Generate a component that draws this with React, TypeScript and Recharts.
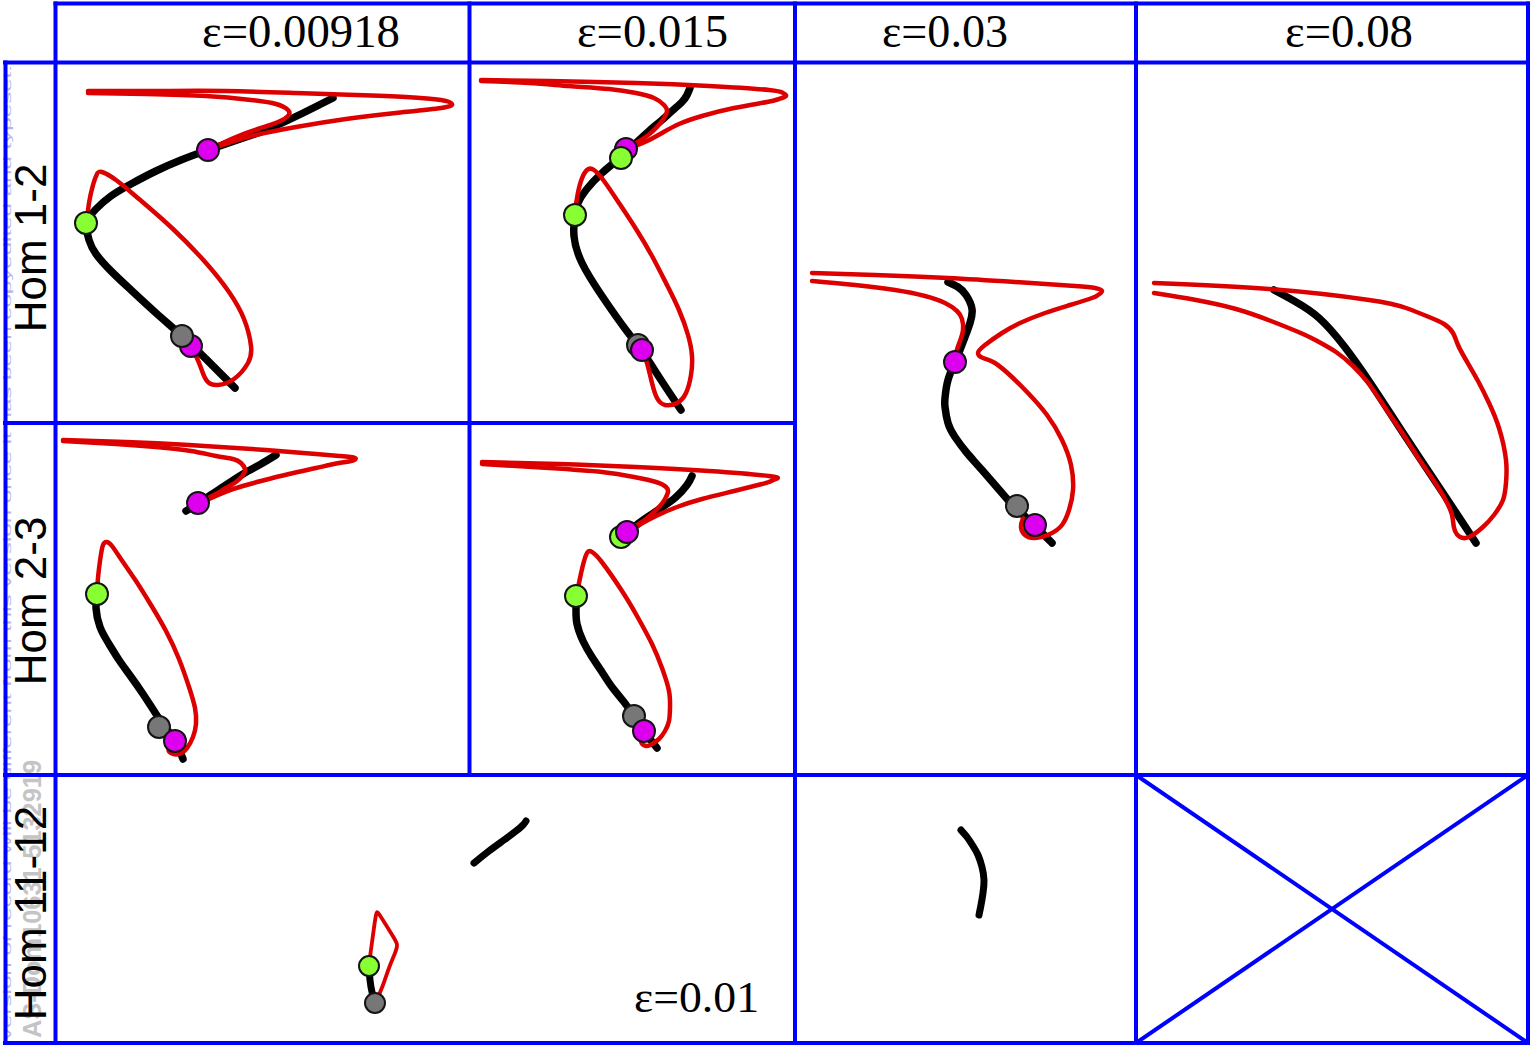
import React from 'react';
import { ComposedChart, Line, Scatter, XAxis, YAxis } from 'recharts';

type Pt = [number, number];
type Dot = { x: number; y: number; k: 'm' | 'g' | 'k' };

const RED = '#dd0000';
const BLUE = '#0000ff';
const DOT_FILL: Record<string, string> = { m: '#dd00ee', g: '#88ff33', k: '#777777' };

// ---------- text ----------
const headerLabels = ['ε=0.00918', 'ε=0.015', 'ε=0.03', 'ε=0.08'];
const rowLabels = ['Hom 1-2', 'Hom 2-3', 'Hom 11-12'];
const bottomLabel = 'ε=0.01';
const watermarkId = 'AS-Dom10631-5132919';
const watermarkNote = 'version of record will be different from this version once it has been copyedited and typeset.';

// ---------- Hom 1-2, eps 0.00918 ----------
const p1Black: Pt[] = [[277,35],[265,41],[245,51],[217,64],[190,74],[152,87],[125,97],[100,108],[75,121],[55,133],[40,146],[31,160],[33,177],[40,191],[55,208],[75,227],[100,250],[126,273],[150,296],[179,325]];
const p1RedA: Pt[] = [[32,28],[100,28],[170,28],[240,30],[300,32],[350,34],[385,37],[396,41],[385,45],[340,50],[290,56],[240,64],[200,72],[175,79],[152,87]];
const p1RedB: Pt[] = [[32,30],[90,31],[150,33],[195,37],[220,41],[232,47],[232,53],[222,59],[205,65],[180,74],[152,87]];
const p1RedLoop: Pt[] = [[31,158],[33,140],[37,122],[41,111],[46,109],[60,117],[83,136],[117,166],[150,200],[173,229],[188,256],[195,283],[192,300],[178,316],[162,322],[151,318],[145,305],[140,293],[135,283]];
const p1Dots: Dot[] = [{ x: 152, y: 87, k: 'm' }, { x: 30, y: 160, k: 'g' }, { x: 135, y: 283, k: 'm' }, { x: 126, y: 273, k: 'k' }];

// ---------- Hom 1-2, eps 0.015 ----------
const p2Black: Pt[] = [[221,25],[218,32],[213,39],[203,48],[193,57],[180,68],[167,80],[152,94],[133,110],[117,127],[109,140],[106,152],[105,173],[113,200],[133,233],[157,267],[173,288],[192,317],[212,347]];
const p2RedA: Pt[] = [[12,17],[80,18],[167,20],[240,23],[300,27],[314,30],[317,33],[310,36],[298,39],[265,45],[233,53],[210,61],[193,70],[176,79],[158,86]];
const p2RedB: Pt[] = [[12,18],[60,20],[100,23],[140,26],[167,30],[185,35],[195,42],[198,48],[195,55],[188,64],[178,73],[167,80],[158,86]];
const p2RedLoop: Pt[] = [[106,150],[108,135],[112,118],[118,107],[125,107],[135,118],[150,140],[167,166],[183,193],[198,222],[210,247],[219,272],[223,293],[222,312],[217,330],[208,340],[196,342],[188,335],[183,320],[178,300],[173,287]];
const p2Dots: Dot[] = [{ x: 157, y: 86, k: 'm' }, { x: 152, y: 95, k: 'g' }, { x: 106, y: 152, k: 'g' }, { x: 169, y: 282, k: 'k' }, { x: 173, y: 287, k: 'm' }];

// ---------- Hom 1-2/2-3, eps 0.03 ----------
const p3Black: Pt[] = [[153,219],[163,224],[171,232],[177,246],[175,260],[170,274],[165,287],[160,299],[153,317],[150,335],[150,344],[153,360],[160,374],[172,390],[187,407],[213,437],[222,446],[240,463],[257,480]];
const p3RedA: Pt[] = [[17,210],[80,212],[153,215],[220,219],[280,223],[300,225],[307,228],[303,232],[297,235],[275,242],[250,250],[225,260],[207,270],[190,282],[183,290],[188,295],[200,300],[218,315],[233,330],[252,352],[267,377],[276,402],[278,427],[274,447],[267,462],[255,471],[240,475],[230,472],[226,464],[228,455]];
const p3RedB: Pt[] = [[17,218],[60,222],[100,227],[130,233],[150,240],[162,248],[167,256],[168,267],[165,278],[161,290],[160,299]];
const p3Dots: Dot[] = [{ x: 160, y: 299, k: 'm' }, { x: 222, y: 443, k: 'k' }, { x: 240, y: 462, k: 'm' }];

// ---------- Hom 1-2/2-3, eps 0.08 ----------
const p4Black: Pt[] = [[138,227],[160,239],[183,255],[208,283],[233,318],[258,356],[283,394],[311,436],[340,480]];
const p4Red: Pt[] = [[18,220],[133,226],[233,237],[270,245],[293,254],[308,261],[317,270],[322,282],[330,297],[342,318],[353,340],[363,365],[370,397],[370,420],[367,437],[358,452],[347,464],[333,474],[324,474],[319,468],[317,458],[314,446],[300,421],[283,396],[267,371],[250,346],[233,321],[217,303],[200,289],[183,279],[167,271],[135,258],[100,246],[60,237],[18,230]];

// ---------- Hom 2-3, eps 0.00918 ----------
const p5BlackTop: Pt[] = [[220,32],[205,41],[187,51],[170,62],[153,73],[140,82],[130,88]];
const p5RedA: Pt[] = [[7,17],[70,19],[133,22],[210,27],[260,31],[283,33],[299,35],[295,38],[283,40],[260,45],[233,51],[205,58],[177,66],[160,73],[148,78],[142,80]];
const p5RedB: Pt[] = [[7,18],[60,21],[100,24],[135,28],[160,33],[177,36],[185,40],[189,46],[187,52],[180,59],[170,65],[160,71],[150,76],[142,80]];
const p5BlackLow: Pt[] = [[41,171],[40,185],[44,204],[53,221],[63,237],[73,251],[87,271],[100,291],[110,305],[119,318],[127,336]];
const p5RedLoop: Pt[] = [[41,171],[42,155],[44,138],[47,122],[51,119],[56,123],[67,139],[80,158],[95,182],[110,208],[123,236],[133,264],[139,285],[140,301],[137,314],[131,325],[123,331],[115,330],[113,325],[119,318]];
const p5Dots: Dot[] = [{ x: 142, y: 80, k: 'm' }, { x: 41, y: 171, k: 'g' }, { x: 103, y: 304, k: 'k' }, { x: 119, y: 318, k: 'm' }];

// ---------- Hom 2-3, eps 0.015 ----------
const p6BlackTop: Pt[] = [[223,53],[218,62],[207,74],[195,83],[183,91],[170,100],[160,109]];
const p6RedA: Pt[] = [[13,39],[90,41],[167,44],[240,48],[300,53],[307,56],[300,59],[293,61],[265,68],[233,76],[208,84],[187,93],[170,102],[158,109]];
const p6RedB: Pt[] = [[13,41],[80,45],[133,49],[165,54],[187,59],[197,64],[199,69],[196,76],[190,84],[177,96],[165,104],[158,109]];
const p6BlackLow: Pt[] = [[107,173],[107,187],[108,201],[114,218],[123,234],[133,249],[143,264],[155,279],[165,293],[175,308],[188,325]];
const p6RedLoop: Pt[] = [[107,173],[110,160],[113,146],[118,130],[123,129],[132,138],[153,168],[168,193],[183,221],[193,245],[200,268],[201,285],[200,298],[196,308],[190,316],[183,321],[177,323],[172,318],[175,308]];
const p6Dots: Dot[] = [{ x: 152, y: 114, k: 'g' }, { x: 158, y: 109, k: 'm' }, { x: 107, y: 173, k: 'g' }, { x: 165, y: 293, k: 'k' }, { x: 175, y: 308, k: 'm' }];

// ---------- Hom 11-12, eps 0.01 ----------
const p7BlackTop: Pt[] = [[418,88],[433,76],[448,65],[460,56],[467,50],[470,46]];
const p7BlackLow: Pt[] = [[313,191],[314,205],[316,217],[319,228]];
const p7Red: Pt[] = [[314,182],[317,160],[320,140],[323,139],[330,150],[338,163],[341,170],[339,178],[333,193],[327,210],[322,222],[320,228]];
const p7Dots: Dot[] = [{ x: 313, y: 191, k: 'g' }, { x: 319, y: 228, k: 'k' }];

// ---------- Hom 11-12, eps 0.03 ----------
const p8Black: Pt[] = [[166,55],[172,62],[178,71],[183,80],[187,92],[189,105],[188,118],[186,130],[184,140]];

// ---------- Hom 11-12, eps 0.08 (crossed-out cell) ----------
const crossDown: Pt[] = [[0,0],[392,268]];
const crossUp: Pt[] = [[0,268],[392,0]];

const rows = (s: Pt[]) => s.map(([x, y]) => ({ x, y }));

type PanelProps = {
  left: number; top: number; w: number; h: number;
  black?: Pt[][]; red?: Pt[][]; blue?: Pt[][]; dots?: Dot[];
  bw?: number; rw?: number; r?: number;
};

function Panel({ left, top, w, h, black = [], red = [], blue = [], dots = [], bw = 7.5, rw = 4.5, r = 11 }: PanelProps) {
  return (
    <div style={{ position: 'absolute', left, top, width: w, height: h }}>
      <ComposedChart width={w} height={h} margin={{ top: 0, right: 0, bottom: 0, left: 0 }}>
        <XAxis type="number" dataKey="x" domain={[0, w]} allowDataOverflow hide />
        <YAxis type="number" dataKey="y" domain={[0, h]} allowDataOverflow reversed hide />
        {black.map((s, i) => (
          <Line key={'b' + i} data={rows(s)} dataKey="y" type="natural" stroke="#000" strokeWidth={bw}
            strokeLinecap="round" dot={false} activeDot={false} isAnimationActive={false} />
        ))}
        {red.map((s, i) => (
          <Line key={'r' + i} data={rows(s)} dataKey="y" type="natural" stroke={RED} strokeWidth={rw}
            strokeLinecap="round" dot={false} activeDot={false} isAnimationActive={false} />
        ))}
        {blue.map((s, i) => (
          <Line key={'u' + i} data={rows(s)} dataKey="y" type="linear" stroke={BLUE} strokeWidth={4}
            dot={false} activeDot={false} isAnimationActive={false} />
        ))}
        {dots.length > 0 && (
          <Scatter data={dots} dataKey="y" isAnimationActive={false}
            shape={(p: any) => (
              <circle cx={p.cx} cy={p.cy} r={r} fill={DOT_FILL[p.payload.k]} stroke="#141414" strokeWidth={2} />
            )} />
        )}
      </ComposedChart>
    </div>
  );
}

const hLines: [number, number, number][] = [[55.5, 1528, 3.5], [5, 1528, 62.5], [5, 795, 423], [5, 1528, 775], [5, 1528, 1043]];
const vLines: [number, number, number][] = [[5.5, 62.5, 1043], [55.5, 3.5, 1043], [469.5, 3.5, 775], [795, 3.5, 1043], [1136, 3.5, 1043], [1528, 3.5, 1043]];

export default function App() {
  return (
    <div style={{ position: 'absolute', left: 0, top: 0, width: 1532, height: 1046, background: '#fff', overflow: 'hidden' }}>
      <Panel left={56} top={63} w={413} h={360} black={[p1Black]} red={[p1RedA, p1RedB, p1RedLoop]} dots={p1Dots} />
      <Panel left={469} top={63} w={326} h={360} black={[p2Black]} red={[p2RedA, p2RedB, p2RedLoop]} dots={p2Dots} />
      <Panel left={795} top={63} w={341} h={712} black={[p3Black]} red={[p3RedA, p3RedB]} dots={p3Dots} />
      <Panel left={1136} top={63} w={392} h={712} black={[p4Black]} red={[p4Red]} />
      <Panel left={56} top={423} w={413} h={352} black={[p5BlackTop, p5BlackLow]} red={[p5RedA, p5RedB, p5RedLoop]} dots={p5Dots} />
      <Panel left={469} top={423} w={326} h={352} black={[p6BlackTop, p6BlackLow]} red={[p6RedA, p6RedB, p6RedLoop]} dots={p6Dots} />
      <Panel left={56} top={775} w={739} h={268} black={[p7BlackTop, p7BlackLow]} red={[p7Red]} dots={p7Dots} bw={7} rw={3.8} r={10} />
      <Panel left={795} top={775} w={341} h={268} black={[p8Black]} bw={7} />
      <Panel left={1136} top={775} w={392} h={268} blue={[crossDown, crossUp]} />

      <svg width={1532} height={1046} style={{ position: 'absolute', left: 0, top: 0, pointerEvents: 'none' }}>
        <text transform="translate(11,1040) rotate(-90)" fontFamily="Liberation Sans" fontSize={11} fill="#b4b4f4"
          textLength={975} lengthAdjust="spacingAndGlyphs">{watermarkNote}</text>
        <text transform="translate(41,1038) rotate(-90)" fontFamily="Liberation Sans" fontWeight="bold" fontSize={25} fill="#c4c4c4"
          textLength={278} lengthAdjust="spacingAndGlyphs">{watermarkId}</text>
        {hLines.map(([x1, x2, y], i) => (
          <line key={'h' + i} x1={x1} x2={x2} y1={y} y2={y} stroke={BLUE} strokeWidth={4} strokeLinecap="square" />
        ))}
        {vLines.map(([x, y1, y2], i) => (
          <line key={'v' + i} x1={x} x2={x} y1={y1} y2={y2} stroke={BLUE} strokeWidth={4} strokeLinecap="square" />
        ))}
        <text x={202} y={47} fontFamily="Liberation Serif" fontSize={46} fill="#000" textLength={198} lengthAdjust="spacingAndGlyphs">{headerLabels[0]}</text>
        <text x={577} y={47} fontFamily="Liberation Serif" fontSize={46} fill="#000" textLength={151} lengthAdjust="spacingAndGlyphs">{headerLabels[1]}</text>
        <text x={882} y={47} fontFamily="Liberation Serif" fontSize={46} fill="#000" textLength={126} lengthAdjust="spacingAndGlyphs">{headerLabels[2]}</text>
        <text x={1285} y={47} fontFamily="Liberation Serif" fontSize={46} fill="#000" textLength={128} lengthAdjust="spacingAndGlyphs">{headerLabels[3]}</text>
        <text x={634} y={1012} fontFamily="Liberation Serif" fontSize={44} fill="#000" textLength={125} lengthAdjust="spacingAndGlyphs">{bottomLabel}</text>
        <text transform="translate(46,248) rotate(-90)" textAnchor="middle" fontFamily="Liberation Sans" fontSize={44} fill="#000">{rowLabels[0]}</text>
        <text transform="translate(46,601) rotate(-90)" textAnchor="middle" fontFamily="Liberation Sans" fontSize={44} fill="#000">{rowLabels[1]}</text>
        <text transform="translate(46,913) rotate(-90)" textAnchor="middle" fontFamily="Liberation Sans" fontSize={44} fill="#000">{rowLabels[2]}</text>
      </svg>
    </div>
  );
}
